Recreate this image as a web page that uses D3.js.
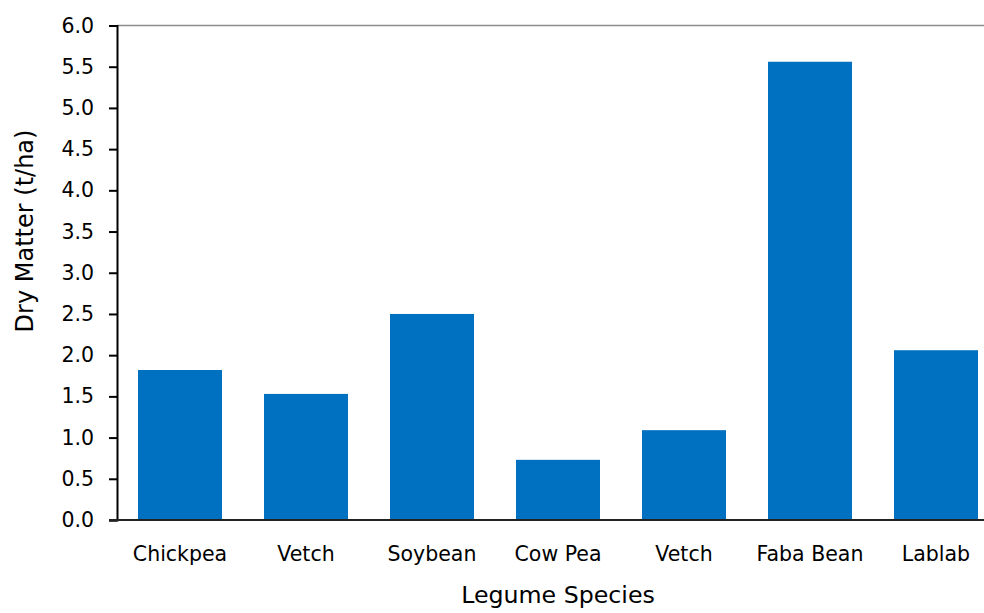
<!DOCTYPE html>
<html>
<head>
<meta charset="utf-8">
<script src="https://cdn.jsdelivr.net/npm/d3@7/dist/d3.min.js"></script>
<style>
  html, body { margin: 0; padding: 0; background: #fff; }
  svg { display: block; }
  text { font-family: "DejaVu Sans", Verdana, sans-serif; fill: #000; }
</style>
</head>
<body>
<svg id="chart" width="984" height="613"></svg>
<script>
// Dry matter yield per legume species (t/ha)
const species = ["Chickpea", "Vetch", "Soybean", "Cow Pea", "Vetch", "Faba Bean", "Lablab"];
const dryMatter = [1.82, 1.53, 2.50, 0.73, 1.09, 5.56, 2.06];
const yTicks = [0, 0.5, 1, 1.5, 2, 2.5, 3, 3.5, 4, 4.5, 5, 5.5, 6];
const xTitle = "Legume Species";
const yTitle = "Dry Matter (t/ha)";

const svg = d3.select("#chart");
const margin = { left: 117, top: 25.5, bottom: 520 };
const plotRight = 999;

// Use index keys so repeated names (Vetch) get their own band
const x = d3.scaleBand()
  .domain(species.map((d, i) => i))
  .range([margin.left, plotRight])
  .paddingInner(1 / 3)
  .paddingOuter(1 / 6);

const y = d3.scaleLinear()
  .domain([0, 6])
  .range([margin.bottom, margin.top]);

// Top border of plot area
svg.append("line")
  .attr("x1", margin.left).attr("x2", plotRight)
  .attr("y1", y(6)).attr("y2", y(6))
  .attr("stroke", "#8c8c8c").attr("stroke-width", 1.5);

// Bars
svg.append("g").selectAll("rect")
  .data(dryMatter)
  .join("rect")
  .attr("x", (d, i) => x(i))
  .attr("width", x.bandwidth())
  .attr("y", d => y(d))
  .attr("height", d => y(0) - y(d))
  .attr("fill", "#0070c0");

// Y axis
const yAxis = svg.append("g")
  .attr("transform", `translate(${margin.left},0)`)
  .call(d3.axisLeft(y).tickValues(yTicks).tickFormat(d3.format(".1f")).tickSize(8).tickPadding(15));
yAxis.select(".domain").attr("stroke", "#000").attr("stroke-width", 2);
yAxis.selectAll(".tick line").attr("stroke", "#000").attr("stroke-width", 2);
yAxis.selectAll("text").style("font-size", "20.5px");

// X axis
const xAxis = svg.append("g")
  .attr("transform", `translate(0,${margin.bottom})`)
  .call(d3.axisBottom(x).tickFormat(i => species[i]).tickSize(0).tickPadding(26));
xAxis.select(".domain").remove();
xAxis.selectAll("text").style("font-size", "20.5px");
svg.append("line")
  .attr("x1", margin.left - 8).attr("x2", plotRight)
  .attr("y1", margin.bottom).attr("y2", margin.bottom)
  .attr("stroke", "#222").attr("stroke-width", 2);

// Axis titles
svg.append("text")
  .attr("x", (margin.left + plotRight) / 2)
  .attr("y", 603)
  .attr("text-anchor", "middle")
  .style("font-size", "23.7px")
  .text(xTitle);

svg.append("text")
  .attr("transform", "translate(33,231) rotate(-90)")
  .attr("text-anchor", "middle")
  .style("font-size", "24px")
  .text(yTitle);
</script>
</body>
</html>
